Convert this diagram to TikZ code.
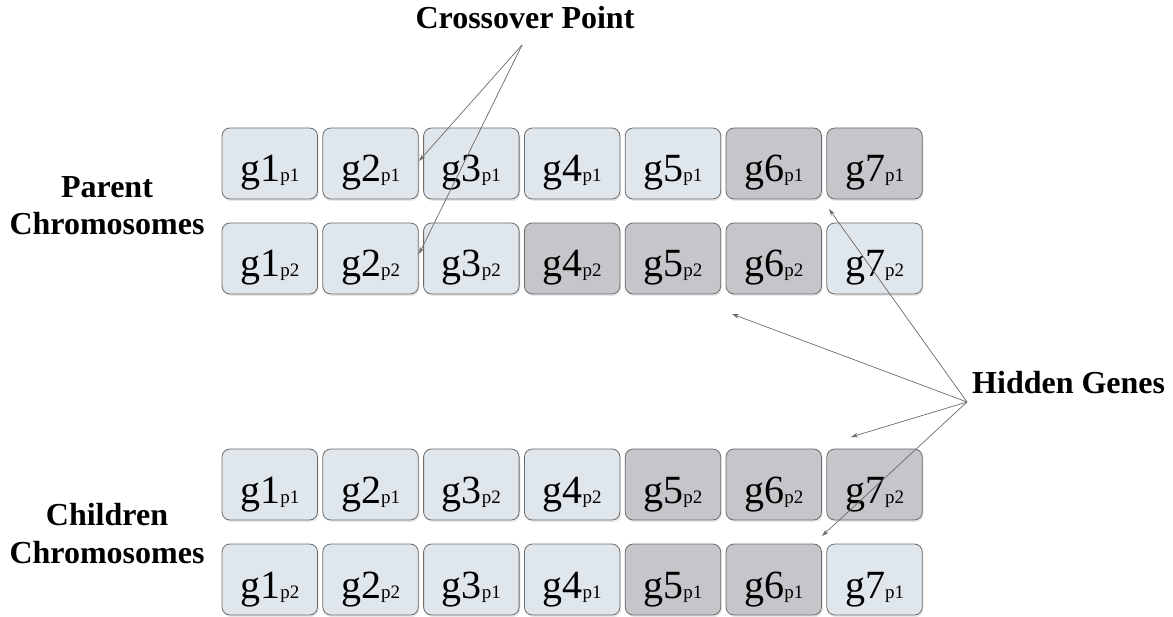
\documentclass[tikz,border=0pt]{standalone}
\usepackage{fontspec}
\setmainfont{Liberation Serif}
\usetikzlibrary{arrows.meta,shadows}

\definecolor{genelight}{HTML}{DFE7ED}
\definecolor{genedark}{HTML}{C6C6CA}
\definecolor{geneedge}{HTML}{6B6B6B}
\definecolor{arrowgray}{HTML}{6A6A6A}

% gene label: large gene name with a small parent tag on the same baseline
\newcommand{\genelabel}[2]{{\fontsize{40}{40}\selectfont g#1}{\fontsize{19}{19}\selectfont p#2}}

\begin{document}
\begin{tikzpicture}[x=1pt,y=-1pt,
  genebox/.style={rounded corners=8pt, draw=geneedge, line width=0.8pt,
    minimum width=95.5pt, inner sep=0pt, text height=54pt, text depth=17pt,
    drop shadow={shadow xshift=1.2pt, shadow yshift=-2pt, opacity=0.18}},
  genelt/.style={genebox, fill=genelight},
  genedk/.style={genebox, fill=genedark},
  caption/.style={font=\fontsize{32}{32}\selectfont\bfseries, inner sep=0pt, anchor=base},
  pointer/.style={draw=arrowgray, line width=0.7pt, -{Stealth[length=7pt,width=4.5pt]}}]

\useasboundingbox (0,0) rectangle (1173,617);

% parent chromosome 1
\foreach \g/\p/\s [count=\i from 0] in {1/1/lt,2/1/lt,3/1/lt,4/1/lt,5/1/lt,6/1/dk,7/1/dk}
  \node[gene\s] (pa\g) at (269.75+100.8*\i,163.5) {\genelabel{\g}{\p}};
% parent chromosome 2
\foreach \g/\p/\s [count=\i from 0] in {1/2/lt,2/2/lt,3/2/lt,4/2/dk,5/2/dk,6/2/dk,7/2/lt}
  \node[gene\s] (pb\g) at (269.75+100.8*\i,258.5) {\genelabel{\g}{\p}};
% child chromosome 1
\foreach \g/\p/\s [count=\i from 0] in {1/1/lt,2/1/lt,3/2/lt,4/2/lt,5/2/dk,6/2/dk,7/2/dk}
  \node[gene\s] (ca\g) at (269.75+100.8*\i,484.5) {\genelabel{\g}{\p}};
% child chromosome 2
\foreach \g/\p/\s [count=\i from 0] in {1/2/lt,2/2/lt,3/1/lt,4/1/lt,5/1/dk,6/1/dk,7/1/lt}
  \node[gene\s] (cb\g) at (269.75+100.8*\i,579.5) {\genelabel{\g}{\p}};

% row captions
\node[caption] (parentA) at (107,198) {Parent};
\node[caption] (parentB) at (107,235) {Chromosomes};
\node[caption] (childA) at (107,525) {Children};
\node[caption] (childB) at (107,563) {Chromosomes};

% crossover point callout
\node[caption] (cross) at (525,29) {Crossover Point};
\coordinate (crossapex) at (522,45);
\coordinate (cutA) at (419,161);
\coordinate (cutB) at (419,254);
\draw[pointer] (crossapex) -- (cutA);
\draw[pointer] (crossapex) -- (cutB);

% hidden genes callout
\node[caption, anchor=base west] (hidden) at (972,394) {Hidden Genes};
\coordinate (hgapex) at (967,402);
\coordinate (hidA) at (829,209);
\coordinate (hidB) at (732,314);
\coordinate (hidC) at (851,437);
\coordinate (hidD) at (822,536);
\draw[pointer] (hgapex) -- (hidA);
\draw[pointer] (hgapex) -- (hidB);
\draw[pointer] (hgapex) -- (hidC);
\draw[pointer] (hgapex) -- (hidD);
\end{tikzpicture}
\end{document}
